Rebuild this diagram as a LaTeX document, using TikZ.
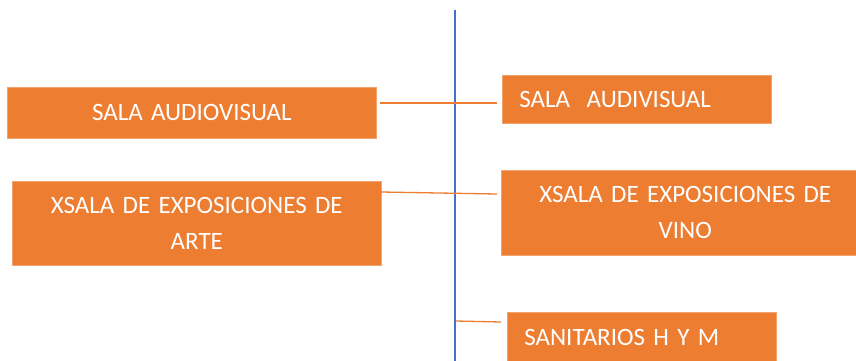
\documentclass[tikz,border=0pt]{standalone}
\usepackage{fontspec}
\setmainfont{Carlito}
\definecolor{ofcorange}{HTML}{ED7D31}
\definecolor{ofcblue}{HTML}{4472C4}
\newcommand\roomfont{\fontsize{25}{36}\selectfont\spaceskip=0.17em\relax}
\begin{document}
\begin{tikzpicture}[
  x=1pt, y=-1pt,
  room/.style={
    fill=ofcorange, draw=ofcorange!70!white, line width=0.6pt,
    text=white, font=\roomfont,
    inner ysep=0pt, anchor=north west,
  },
  roomC/.style={room, inner xsep=0pt, align=center},
  roomL/.style={room, inner xsep=17pt, align=left},
  link/.style={draw=ofcorange, line width=1.3pt},
  spine/.style={draw=ofcblue, line width=2.4pt},
]

% page size of the reference (856 x 360 px)
\useasboundingbox (0,0) rectangle (856,360);

% left rooms
\node[roomC, minimum width=369pt, minimum height=51pt, text width=369pt]
  (audioL) at (7,87) {SALA AUDIOVISUAL};
\node[roomC, minimum width=369pt, minimum height=84pt, text width=369pt]
  (arte) at (12,181) {XSALA DE EXPOSICIONES DE\\ARTE};

% right rooms
\node[roomL, minimum width=269pt, minimum height=48pt, text width=235pt]
  (audioR) at (502,75) {SALA\ \ AUDIVISUAL};
\node[roomC, minimum width=368pt, minimum height=85pt, text width=368pt]
  (vino) at (501,170) {XSALA DE EXPOSICIONES DE\\VINO};
\node[roomL, minimum width=269pt, minimum height=51pt, text width=235pt]
  (sanit) at (507,312) {SANITARIOS H Y M};

% central axis
\coordinate (top) at (455,10);
\coordinate (bot) at (455,362);
\draw[spine] (top) -- (bot);

% connectors
\coordinate (a1) at (380,103);
\coordinate (a2) at (497,103);
\draw[link] (a1) -- (a2);

\coordinate (b1) at (381,192);
\coordinate (b2) at (497,194);
\draw[link] (b1) -- (b2);

\coordinate (c1) at (456,321);
\coordinate (c2) at (501,322);
\draw[link] (c1) -- (c2);

\end{tikzpicture}
\end{document}
